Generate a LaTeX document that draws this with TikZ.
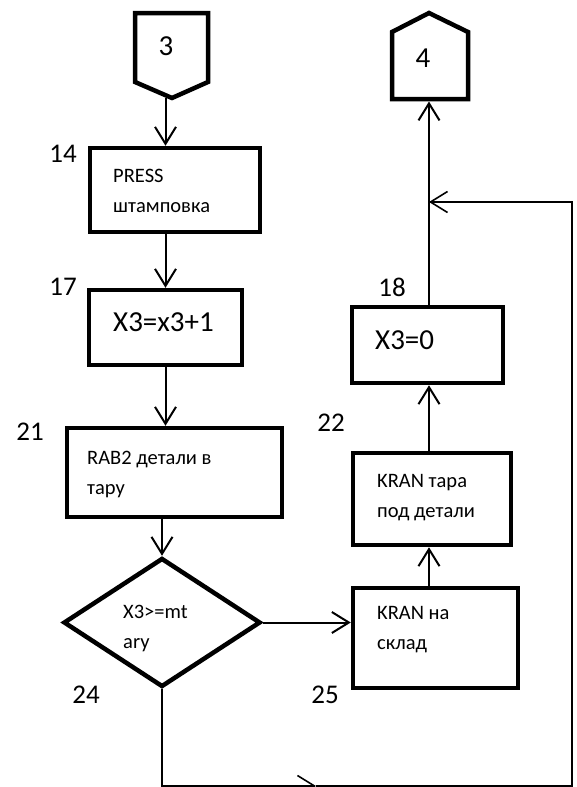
\documentclass[tikz,border=0pt]{standalone}
\usepackage{fontspec}
\setmainfont{Carlito}
\usetikzlibrary{arrows.meta,shapes.geometric}

\begin{document}
\begin{tikzpicture}[x=1pt,y=-1pt,
	box/.style={draw, line width=4.5pt, inner sep=0pt},
	cond/.style={draw, diamond, line width=4.5pt, inner sep=0pt, minimum width=197, minimum height=129},
	txt/.style={anchor=west, align=left, inner sep=0pt, font=\fontsize{20.5}{30}\selectfont},
	big/.style={inner sep=0pt, font=\fontsize{29}{34}\selectfont},
	num/.style={inner sep=0pt, font=\fontsize{27}{32}\selectfont},
	tip/.style={-{Straight Barb[length=17pt,width=21pt]}},
	arr/.style={line width=2pt, tip},
	back/.style={line width=1.6pt, tip},
]
\useasboundingbox (0,0) rectangle (576,787);

% off-page connectors
\draw[line width=4.5pt] (135,13) -- (208,13) -- (208,82) -- (172,98) -- (135,82) -- cycle;
\node[big] (t3) at (166,46) {3};
\coordinate (c3) at (172,98);
\draw[line width=4.5pt] (392,99) -- (392,32) -- (429,13) -- (468,32) -- (468,99) -- cycle;
\node[big] (t4) at (423,58) {4};
\coordinate (c4) at (429,101.5);

% left column
\node[box, minimum width=170, minimum height=84] (press) at (175,190) {};
\node[txt] (pressT) at (113,191) {PRESS\\штамповка};
\node[box, minimum width=153, minimum height=75] (fix) at (165.5,327.5) {};
\node[big, anchor=west] (fixT) at (113,322) {X3=x3+1};
\node[box, minimum width=215, minimum height=89] (rab) at (174.5,472.5) {};
\node[txt] (rabT) at (87,474) {RAB2 детали в\\тару};
\node[cond] (dec) at (162,622.5) {};
\node[txt] (decT) at (123,628) {X3>=mt\\ary};

% right column
\node[box, minimum width=151, minimum height=76] (zero) at (427.5,345) {};
\node[big, anchor=west] (zeroT) at (375,340) {X3=0};
\node[box, minimum width=158, minimum height=92] (kranB) at (432,499) {};
\node[txt] (kranBT) at (377,498) {KRAN тара\\под детали};
\node[box, minimum width=165, minimum height=100] (kranA) at (435.5,638) {};
\node[txt] (kranAT) at (377,630) {KRAN на\\склад};

% block numbers
\node[num] (n14) at (63,154) {14};
\node[num] (n17) at (63,287) {17};
\node[num] (n21) at (30,432) {21};
\node[num] (n18) at (392,287) {18};
\node[num] (n22) at (331,423) {22};
\node[num] (n24) at (86,695) {24};
\node[num] (n25) at (325,695) {25};

% flow
\draw[arr] (fix |- c3) -- (fix |- press.north);
\draw[arr] (press.south -| fix) -- (fix.north);
\draw[arr] (fix.south) -- (fix.south |- rab.north);
\draw[arr] (dec.north |- rab.south) -- (dec.north);
\draw[arr] (dec.east) -- (dec.east -| kranA.west);
\draw[arr] (kranA.north -| c4) -- (kranB.south -| c4);
\draw[arr] (kranB.north -| c4) -- (zero.south -| c4);
\draw[arr] (zero.north -| c4) -- (c4);

% loop back
\coordinate (mid) at (316,786);
\coordinate (turn) at (572,202);
\draw[back] (dec.south) |- (mid);
\draw[back] (mid) -| (turn) -- (turn -| c4);
\end{tikzpicture}
\end{document}
